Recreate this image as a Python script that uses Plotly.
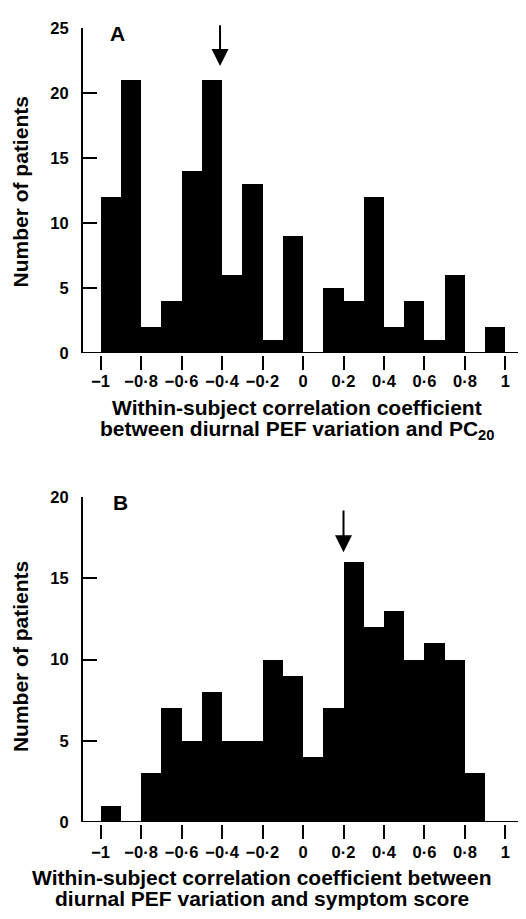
import plotly.graph_objects as go

# Bin centres (width 0.1) shared by both panels
bin_centres = [-0.95, -0.85, -0.75, -0.65, -0.55, -0.45, -0.35, -0.25, -0.15, -0.05,
               0.05, 0.15, 0.25, 0.35, 0.45, 0.55, 0.65, 0.75, 0.85, 0.95]
counts_a = [12, 21, 2, 4, 14, 21, 6, 13, 1, 9, 0, 5, 4, 12, 2, 4, 1, 6, 0, 2]
counts_b = [1, 0, 3, 7, 5, 8, 5, 5, 10, 9, 4, 7, 16, 12, 13, 10, 11, 10, 3, 0]

x_tickvals = [-1, -0.8, -0.6, -0.4, -0.2, 0, 0.2, 0.4, 0.6, 0.8, 1]
x_ticktext = ["−1", "−0·8", "−0·6", "−0·4", "−0·2", "0", "0·2", "0·4", "0·6", "0·8", "1"]
y_ticks_a = [0, 5, 10, 15, 20, 25]
y_ticks_b = [0, 5, 10, 15, 20]
arrow_a = -0.41
arrow_b = 0.2

# the page body adds an 8px margin; size the figure so it fits the 526x919 window
OFF = 8
W, H = 526 - OFF, 919 - OFF
FONT = "Liberation Sans"


def px(x):
    return (x - OFF) / W


def py(y):
    return 1 - (y - OFF) / H


xdom = [px(83), px(518)]
xrange_ = [-1.087, 1.062]

# panel geometry in window pixels
a_top, a_bot = 19.0, 350.7
b_top, b_bot = 497.7, 829.3

fig = go.Figure()
fig.add_trace(go.Bar(x=bin_centres, y=counts_a, width=0.1, marker=dict(color="black", line=dict(width=0)),
                     xaxis="x", yaxis="y", showlegend=False))
fig.add_trace(go.Bar(x=bin_centres, y=counts_b, width=0.1, marker=dict(color="black", line=dict(width=0)),
                     xaxis="x2", yaxis="y2", showlegend=False))
# invisible companions so the label-only axes are drawn
fig.add_trace(go.Scatter(x=bin_centres, y=counts_a, mode="markers", marker=dict(opacity=0),
                         xaxis="x3", yaxis="y", showlegend=False, hoverinfo="skip"))
fig.add_trace(go.Scatter(x=bin_centres, y=counts_b, mode="markers", marker=dict(opacity=0),
                         xaxis="x4", yaxis="y2", showlegend=False, hoverinfo="skip"))

tickfont = dict(family=FONT, size=16.5, color="black", weight="bold")

# tick marks only
tick_x = dict(range=xrange_, domain=xdom, tickvals=x_tickvals, ticktext=x_ticktext,
              ticks="outside", ticklen=14, tickwidth=2, tickcolor="black",
              showline=False, showgrid=False, zeroline=False, showticklabels=False,
              anchor="free")
# tick labels only
lab_x = dict(range=xrange_, domain=xdom, tickvals=x_tickvals, ticktext=x_ticktext,
             ticks="", showline=False, showgrid=False, zeroline=False, tickfont=tickfont,
             anchor="free")
common_y = dict(showline=True, linewidth=2, linecolor="black", ticks="inside", ticklen=14,
                tickwidth=2, tickcolor="black", showgrid=False, zeroline=False,
                tickfont=tickfont, ticklabelstandoff=9)

fig.update_layout(
    width=W, height=H, margin=dict(l=0, r=0, t=0, b=0),
    plot_bgcolor="white", paper_bgcolor="white", bargap=0,
    xaxis=dict(**tick_x, position=py(a_bot + 2)),
    xaxis3=dict(**lab_x, position=py(368), overlaying="x"),
    yaxis=dict(**common_y, range=[0, 25], domain=[py(a_bot), py(a_top)], tickvals=y_ticks_a,
               anchor="x"),
    xaxis2=dict(**tick_x, position=py(b_bot + 2)),
    xaxis4=dict(**lab_x, position=py(848), overlaying="x2"),
    yaxis2=dict(**common_y, range=[0, 20], domain=[py(b_bot), py(b_top)], tickvals=y_ticks_b,
                anchor="x2"),
)

# x-axis baselines
for yref in ["y", "y2"]:
    fig.add_shape(type="line", xref="paper", yref=yref, x0=xdom[0] - 0.002, x1=xdom[1], y0=0, y1=0,
                  line=dict(color="black", width=2))

titlefont = dict(family=FONT, size=21, color="black", weight="bold")


def label(text, x, y, angle=0):
    return dict(text=text, x=px(x), y=py(y), xref="paper", yref="paper", showarrow=False,
                font=titlefont, xanchor="center", yanchor="middle", textangle=angle)


annotations = [
    label("Within-subject correlation coefficient", 297, 406),
    label("between diurnal PEF variation and PC<sub>20</sub>", 297, 429),
    label("Within-subject correlation coefficient between", 262, 886),
    label("diurnal PEF variation and symptom score", 262, 907),
    label("Number of patients", 20, 187, -90),
    label("Number of patients", 20, 661, -90),
    label("A", 117, 25),
    label("B", 120, 503),
    dict(x=arrow_a, y=(a_bot - 58) / ((a_bot - a_top) / 25), xref="x", yref="y",
         ax=arrow_a, ay=(a_bot - 15) / ((a_bot - a_top) / 25), axref="x", ayref="y",
         showarrow=True, arrowhead=2, arrowsize=1.7, arrowwidth=2, arrowcolor="black", text=""),
    dict(x=arrow_b, y=(b_bot - 554) / ((b_bot - b_top) / 20), xref="x2", yref="y2",
         ax=arrow_b, ay=(b_bot - 510) / ((b_bot - b_top) / 20), axref="x2", ayref="y2",
         showarrow=True, arrowhead=2, arrowsize=1.7, arrowwidth=2, arrowcolor="black", text=""),
]
fig.update_layout(annotations=annotations)

fig.write_html("out.html")
